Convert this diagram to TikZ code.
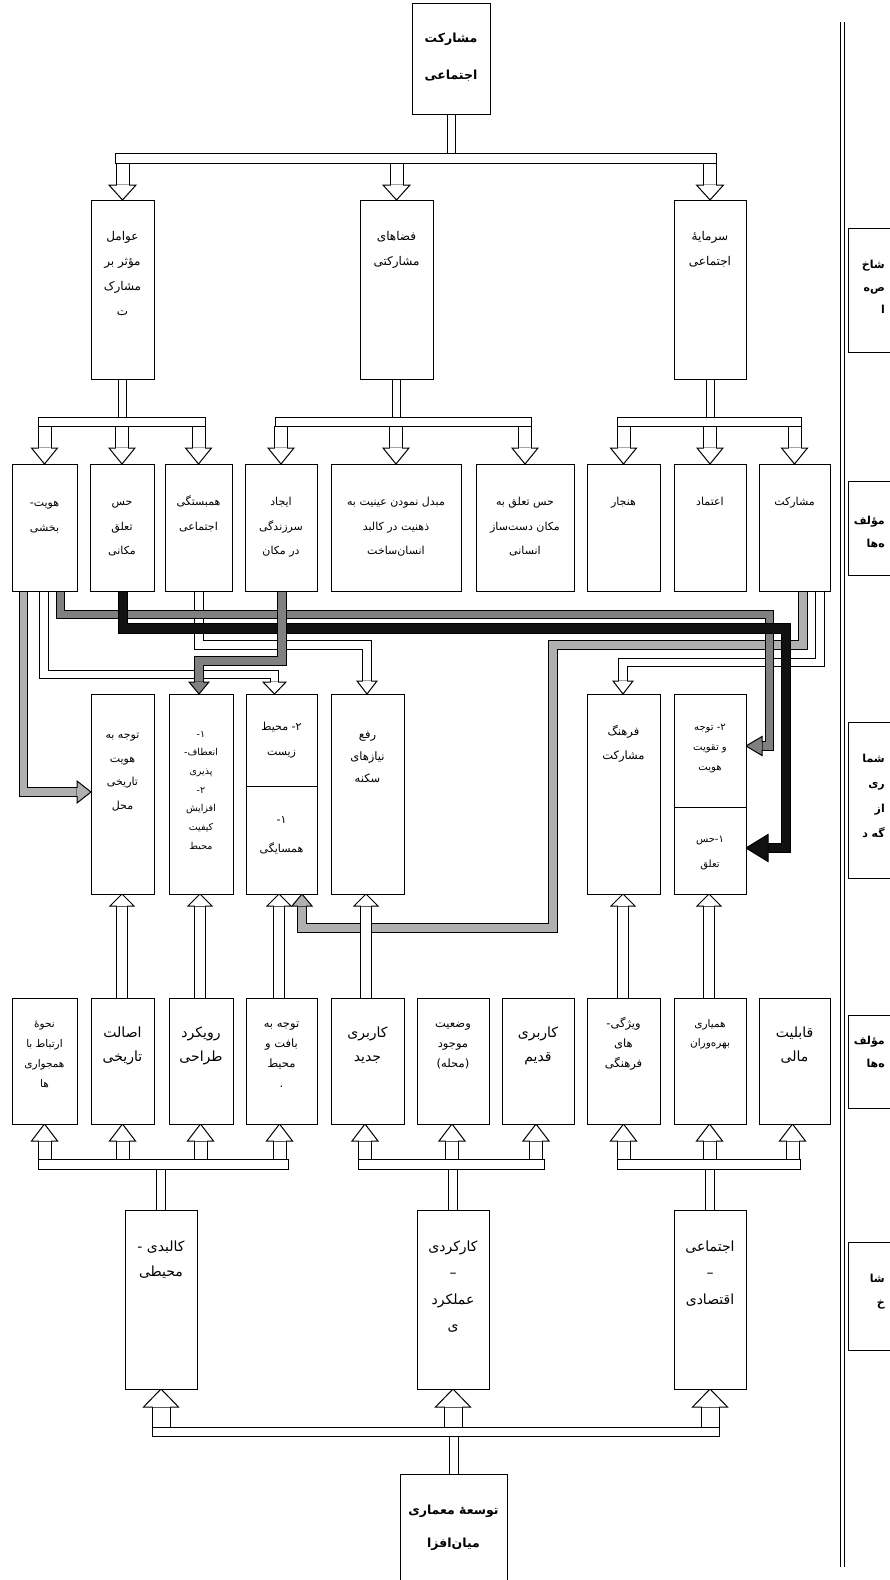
\documentclass[tikz,border=0pt]{standalone}
\usepackage{fontspec}
\setmainfont{DejaVu Sans}
\newfontfamily\arfont[Script=Arabic]{DejaVu Sans}
\TeXXeTstate=1
\usetikzlibrary{calc}
\definecolor{lgray}{HTML}{B0B0B0}
\definecolor{mgray}{HTML}{808080}
\definecolor{blk}{HTML}{111111}
\newcommand\myRL[1]{\beginR #1\endR}
\newcommand\myLR[1]{\beginL #1\endL}
\newcommand\Band[3]{%
  \draw[black,line width={(#2+2)*1pt},line join=miter] #3;%
  \draw[#1,line width={#2*1pt},line join=miter] #3;}
\newcommand\Barrow[6]{%
  \Band{#1}{#2}{#4}%
  \pgfmathsetmacro\hhw{#3*0.5}%
  \filldraw[fill=#1,draw=black,line width=1pt,line join=miter]
    (#6) -- ($(#5)!\hhw pt!90:(#6)$) -- ($(#5)!\hhw pt!-90:(#6)$) -- cycle;%
  \draw[#1,line width={#2*1pt}] ($(#5)!-0.3pt!(#6)$) -- ($(#5)!1.2pt!(#6)$);}
\newcommand\Darrow[7]{\Barrow{#1}{#5}{#6}{(#2,#3) -- (#2,{#4-#7})}{#2,{#4-#7}}{#2,#4}}
\newcommand\Uarrow[7]{\Barrow{#1}{#5}{#6}{(#2,#3) -- (#2,{#4+#7})}{#2,{#4+#7}}{#2,#4}}
\newcommand\Bx[5]{\node[box,minimum width={(#4-#2)*1pt},minimum height={(#5-#3)*1pt}] (#1) at (#2,#3) {};}
\newcommand\Tx[6]{\node[txt,font=\arfont\fontsize{#4}{#5}\selectfont] (#1) at (#2,{#3-0.65*#4}) {\rule{0pt}{0.95em}#6};}
\newcommand\Txb[6]{\node[txt,font=\arfont\bfseries\fontsize{#4}{#5}\selectfont] (#1) at (#2,{#3-0.65*#4}) {\rule{0pt}{0.95em}#6};}
\newcommand\Txr[6]{\node[txt,anchor=north east,align=right,font=\arfont\bfseries\fontsize{#4}{#5}\selectfont] (#1) at (#2,{#3-0.65*#4}) {\rule{0pt}{0.95em}#6};}
\begin{document}
\begin{tikzpicture}[x=1pt,y=-1pt,
  box/.style={draw=black,line width=0.9pt,fill=white,inner sep=0pt,outer sep=0pt,anchor=north west},
  txt/.style={anchor=north,inner sep=0pt,align=center}]
\useasboundingbox (0,0) rectangle (890,1580);
\fill[white] (0,0) rectangle (890,1580);

% right double rule
\draw[line width=0.8pt] (840,22) -- (840,1567);
\draw[line width=0.8pt] (844,22) -- (844,1567);

% ---------- top part ----------
\Band{white}{7}{(451,114) -- (451,153)}
\Darrow{white}{122.5}{163}{200}{12}{27}{15}
\Darrow{white}{396.5}{163}{200}{12}{27}{15}
\Darrow{white}{710}{163}{200}{12}{27}{15}

\Band{white}{7}{(122.5,379) -- (122.5,417)}
\Band{white}{7}{(396.5,379) -- (396.5,417)}
\Band{white}{7}{(710,379) -- (710,417)}
\foreach \xx in {44.5,122,198.5,281,396,525,623.5,710,794.5}
  {\Darrow{white}{\xx}{426}{464}{12}{26}{16}}

% ---------- connectors row 2 -> row 3 ----------
\Barrow{lgray}{7.5}{22}{(23.5,591) -- (23.5,792) -- (77,792)}{77,792}{91,792}
\Barrow{white}{7.5}{23}{(44,591) -- (44,674.5) -- (274.5,674.5) -- (274.5,682)}{274.5,682}{274.5,694}
\Barrow{white}{7.5}{20}{(199,591) -- (199,645) -- (367,645) -- (367,681)}{367,681}{367,694}
\Barrow{lgray}{7.5}{20}{(803,591) -- (803,645) -- (553,645) -- (553,928) -- (302,928) -- (302,906)}{302,906}{302,894}
\Barrow{white}{7.5}{20}{(820,591) -- (820,662.5) -- (623,662.5) -- (623,681)}{623,681}{623,694}
\Barrow{mgray}{7.5}{19}{(60.5,591) -- (60.5,614.5) -- (769.5,614.5) -- (769.5,746) -- (762,746)}{762,746}{746,746}
\Barrow{blk}{8.5}{27}{(123,591) -- (123,628.5) -- (786,628.5) -- (786,848) -- (768,848)}{768,848}{746,848}
\Barrow{mgray}{7.5}{20}{(282,591) -- (282,661) -- (199,661) -- (199,682)}{199,682}{199,694}

% ---------- row 4 -> row 3 ----------
\foreach \xx in {122,200,279,366,623,709}
  {\Uarrow{white}{\xx}{998}{894}{9.5}{24}{12}}

% ---------- lower part ----------
\foreach \xx in {44.5,122.5,200.5,279.5,365,452,536,623.5,709.5,792.5}
  {\Uarrow{white}{\xx}{1159}{1124}{12}{26}{17}}
\Band{white}{8}{(161,1169) -- (161,1210)}
\Band{white}{8}{(453,1169) -- (453,1210)}
\Band{white}{8}{(710,1169) -- (710,1210)}
\foreach \xx in {161,453,710}
  {\Uarrow{white}{\xx}{1427}{1389}{17}{35}{18}}
\Band{white}{8}{(453.5,1436) -- (453.5,1474)}

% ---------- boxes ----------
\Bx{top}{412}{3}{490}{114}
\Bx{bar1}{115}{153}{716}{163}
\Bx{r1a}{91}{200}{154}{379}
\Bx{r1b}{360}{200}{433}{379}
\Bx{r1c}{674}{200}{746}{379}
\Bx{bar2a}{38}{417}{205}{426}
\Bx{bar2b}{275}{417}{531}{426}
\Bx{bar2c}{617}{417}{801}{426}
\Bx{r2a}{12}{464}{77}{591}
\Bx{r2b}{90}{464}{154}{591}
\Bx{r2c}{165}{464}{232}{591}
\Bx{r2d}{245}{464}{317}{591}
\Bx{r2e}{331}{464}{461}{591}
\Bx{r2f}{476}{464}{574}{591}
\Bx{r2g}{587}{464}{660}{591}
\Bx{r2h}{674}{464}{746}{591}
\Bx{r2i}{759}{464}{830}{591}
\Bx{r3a}{91}{694}{154}{894}
\Bx{r3b}{169}{694}{233}{894}
\Bx{r3c}{246}{694}{317}{894}
\draw[line width=0.9pt] (r3c.west |- 0,786) -- (r3c.east |- 0,786);
\Bx{r3d}{331}{694}{404}{894}
\Bx{r3e}{587}{694}{660}{894}
\Bx{r3f}{674}{694}{746}{894}
\draw[line width=0.9pt] (r3f.west |- 0,807) -- (r3f.east |- 0,807);
\Bx{r4a}{12}{998}{77}{1124}
\Bx{r4b}{91}{998}{154}{1124}
\Bx{r4c}{169}{998}{233}{1124}
\Bx{r4d}{246}{998}{317}{1124}
\Bx{r4e}{331}{998}{404}{1124}
\Bx{r4f}{417}{998}{489}{1124}
\Bx{r4g}{502}{998}{574}{1124}
\Bx{r4h}{587}{998}{660}{1124}
\Bx{r4i}{674}{998}{746}{1124}
\Bx{r4j}{759}{998}{830}{1124}
\Bx{bar4a}{38}{1159}{288}{1169}
\Bx{bar4b}{358}{1159}{544}{1169}
\Bx{bar4c}{617}{1159}{800}{1169}
\Bx{r5a}{125}{1210}{197}{1389}
\Bx{r5b}{417}{1210}{489}{1389}
\Bx{r5c}{674}{1210}{746}{1389}
\Bx{bar5}{152}{1427}{719}{1436}
\Bx{bot}{400}{1474}{507}{1592}
% side labels
\Bx{l1}{848}{228}{900}{352}
\Bx{l2}{848}{481}{900}{575}
\Bx{l3}{848}{722}{900}{878}
\Bx{l4}{848}{1015}{900}{1108}
\Bx{l5}{848}{1242}{900}{1350}

% ---------- texts ----------
\Txb{ttop}{451}{39}{12.5}{37}{\myRL{مشارکت}\\\myRL{اجتماعی}}
\Tx{tr1a}{122.5}{237}{12}{25}{\myRL{عوامل}\\\myRL{مؤثر بر}\\\myRL{مشارک}\\\myRL{ت}}
\Tx{tr1b}{396.5}{237}{12}{25}{\myRL{فضاهای}\\\myRL{مشارکتی}}
\Tx{tr1c}{710}{237}{12}{25}{\myRL{سرمایهٔ}\\\myRL{اجتماعی}}

\Tx{tr2a}{44.5}{503}{11}{24.5}{\myRL{هویت-}\\\myRL{بخشی}}
\Tx{tr2b}{122}{502}{11}{24.5}{\myRL{حس}\\\myRL{تعلق}\\\myRL{مکانی}}
\Tx{tr2c}{198.5}{502}{11}{24.5}{\myRL{همبستگی}\\\myRL{اجتماعی}}
\Tx{tr2d}{281}{502}{11}{24.5}{\myRL{ایجاد}\\\myRL{سرزندگی}\\\myRL{در مکان}}
\Tx{tr2e}{396}{502}{11}{24.5}{\myRL{مبدل نمودن عینیت به}\\\myRL{ذهنیت در کالبد}\\\myRL{انسان‌ساخت}}
\Tx{tr2f}{525}{502}{11}{24.5}{\myRL{حس تعلق به}\\\myRL{مکان دست‌ساز}\\\myRL{انسانی}}
\Tx{tr2g}{623.5}{502}{11}{24.5}{\myRL{هنجار}}
\Tx{tr2h}{710}{502}{11}{24.5}{\myRL{اعتماد}}
\Tx{tr2i}{794.5}{502}{11}{24.5}{\myRL{مشارکت}}

\Tx{tr3a}{122.5}{735}{11}{23.5}{\myRL{توجه به}\\\myRL{هویت}\\\myRL{تاریخی}\\\myRL{محل}}
\begin{scope}
\clip (165,690) rectangle (237,849);
\Tx{tr3b}{201}{734}{9.5}{18.7}{\myRL{۱-}\\\myRL{انعطاف-}\\\myRL{پذیری}\\\myRL{۲-}\\\myRL{افزایش}\\\myRL{کیفیت}\\\myRL{محیط}}
\end{scope}
\Tx{tr3c}{281.5}{727}{11}{25}{\myRL{\myLR{۲-} محیط}\\\myRL{زیست}}
\Tx{tr3cc}{281.5}{820}{11}{29}{\myRL{۱-}\\\myRL{همسایگی}}
\Tx{tr3d}{367.5}{735}{11.5}{22}{\myRL{رفع}\\\myRL{نیازهای}\\\myRL{سکنه}}
\Tx{tr3e}{623.5}{732}{11.5}{24}{\myRL{فرهنگ}\\\myRL{مشارکت}}
\Tx{tr3f}{710}{727}{10}{20}{\myRL{\myLR{۲-} توجه}\\\myRL{و تقویت}\\\myRL{هویت}}
\Tx{tr3ff}{710}{839}{10}{25}{\myRL{\myLR{۱-}حس}\\\myRL{تعلق}}

\Tx{tr4a}{44.5}{1024}{10.5}{20}{\myRL{نحوهٔ}\\\myRL{ارتباط با}\\\myRL{همجواری}\\\myRL{ها}}
\Tx{tr4b}{122.5}{1033}{14}{24}{\myRL{اصالت}\\\myRL{تاریخی}}
\Tx{tr4c}{201}{1033}{14}{24}{\myRL{رویکرد}\\\myRL{طراحی}}
\Tx{tr4d}{281.5}{1024}{11.5}{20}{\myRL{توجه به}\\\myRL{بافت و}\\\myRL{محیط}\\\myRL{.}}
\Tx{tr4e}{367.5}{1033}{14}{24}{\myRL{کاربری}\\\myRL{جدید}}
\Tx{tr4f}{453}{1024}{11.5}{20}{\myRL{وضعیت}\\\myRL{موجود}\\\myRL{(محله)}}
\Tx{tr4g}{538}{1033}{14}{24}{\myRL{کاربری}\\\myRL{قدیم}}
\Tx{tr4h}{623.5}{1024}{11.5}{20}{\myRL{ویژگی-}\\\myRL{های}\\\myRL{فرهنگی}}
\Tx{tr4i}{710}{1024}{10.5}{19}{\myRL{همیاری}\\\myRL{بهره‌وران}}
\Tx{tr4j}{794.5}{1033}{14}{24}{\myRL{قابلیت}\\\myRL{مالی}}

\Tx{tr5a}{161}{1247}{14}{25}{\myRL{کالبدی -}\\\myRL{محیطی}}
\Tx{tr5b}{453}{1247}{14}{26.5}{\myRL{کارکردی}\\\myRL{–}\\\myRL{عملکرد}\\\myRL{ی}}
\Tx{tr5c}{710}{1247}{14}{26.5}{\myRL{اجتماعی}\\\myRL{–}\\\myRL{اقتصادی}}
\Txb{tbot}{453.5}{1511}{12.5}{33}{\myRL{توسعهٔ معماری}\\\myRL{میان‌افزا}}

\Txr{tl1}{885}{265}{11}{22.5}{\myRL{شاخ}\\\myRL{ص‌ه}\\\myRL{ا}}
\Txr{tl2}{885}{521}{11}{23}{\myRL{مؤلف}\\\myRL{ه‌ها}}
\Txr{tl3}{885}{759}{11}{25}{\myRL{شما}\\\myRL{ری}\\\myRL{از}\\\myRL{گه د}}
\Txr{tl4}{885}{1041}{11}{23}{\myRL{مؤلف}\\\myRL{ه‌ها}}
\Txr{tl5}{885}{1279}{11}{24}{\myRL{شا}\\\myRL{خ}}
\end{tikzpicture}
\end{document}
